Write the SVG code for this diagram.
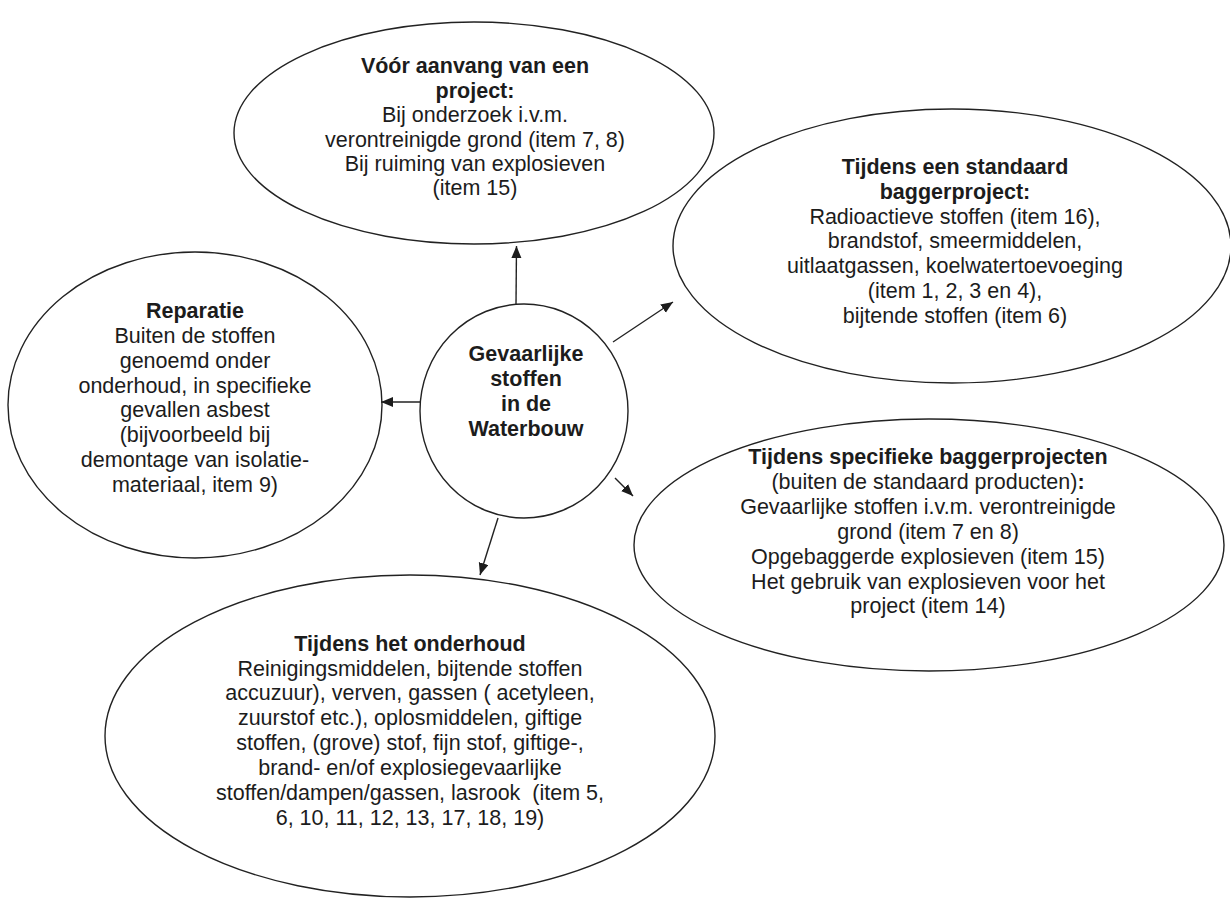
<svg xmlns="http://www.w3.org/2000/svg" width="1230" height="899" viewBox="0 0 1230 899">
  <defs>
    <style>
      .shape { fill: none; stroke: #222; stroke-width: 1.4; }
      .wire { fill: none; stroke: #222; stroke-width: 1.4; }
      text { font-family: "Liberation Sans", Arial, Helvetica, sans-serif; font-size: 21.5px; fill: #1c1c1c; text-anchor: middle; }
      .b { font-weight: bold; }
    </style>
    <marker id="tip" markerUnits="userSpaceOnUse" markerWidth="13" markerHeight="11" refX="12" refY="5" orient="auto">
      <path d="M0,0 L12,5 L0,10 Z" fill="#1c1c1c"/>
    </marker>
  </defs>

  <rect width="1230" height="899" fill="#ffffff"/>

  <!-- connectors from the central circle to the surrounding ellipses -->
  <g id="connectors">
    <line class="wire" x1="516" y1="305" x2="516.5" y2="246" marker-end="url(#tip)"/>
    <line class="wire" x1="613" y1="342" x2="673" y2="302" marker-end="url(#tip)"/>
    <line class="wire" x1="420" y1="402" x2="381" y2="402" marker-end="url(#tip)"/>
    <line class="wire" x1="615" y1="478" x2="633" y2="496" marker-end="url(#tip)"/>
    <line class="wire" x1="498" y1="518" x2="480" y2="575" marker-end="url(#tip)"/>
  </g>

  <!-- central topic -->
  <g id="node-center">
    <ellipse class="shape" cx="524" cy="411" rx="104" ry="107"/>
    <text class="b" x="526" y="360.7">Gevaarlijke</text>
    <text class="b" x="526" y="385.7">stoffen</text>
    <text class="b" x="526" y="410.5">in de</text>
    <text class="b" x="526" y="435.5">Waterbouw</text>
  </g>

  <!-- before the project starts -->
  <g id="node-voor-aanvang">
    <ellipse class="shape" cx="474" cy="133" rx="240" ry="111"/>
    <text class="b" x="475" y="73">Vóór aanvang van een</text>
    <text class="b" x="475" y="97.5">project:</text>
    <text x="475" y="122">Bij onderzoek i.v.m.</text>
    <text x="475" y="146.5">verontreinigde grond (item 7, 8)</text>
    <text x="475" y="171">Bij ruiming van explosieven</text>
    <text x="475" y="195">(item 15)</text>
  </g>

  <!-- standard dredging project -->
  <g id="node-standaard">
    <ellipse class="shape" cx="952" cy="246" rx="279" ry="137"/>
    <text class="b" x="955" y="174">Tijdens een standaard</text>
    <text class="b" x="955" y="198.8">baggerproject:</text>
    <text x="955" y="223.6">Radioactieve stoffen (item 16),</text>
    <text x="955" y="248.4">brandstof, smeermiddelen,</text>
    <text x="955" y="273.2">uitlaatgassen, koelwatertoevoeging</text>
    <text x="955" y="298">(item 1, 2, 3 en 4),</text>
    <text x="955" y="322.8">bijtende stoffen (item 6)</text>
  </g>

  <!-- repair -->
  <g id="node-reparatie">
    <ellipse class="shape" cx="195" cy="405" rx="187" ry="153"/>
    <text class="b" x="195" y="318">Reparatie</text>
    <text x="195" y="343">Buiten de stoffen</text>
    <text x="195" y="368">genoemd onder</text>
    <text x="195" y="392.5">onderhoud, in specifieke</text>
    <text x="195" y="417">gevallen asbest</text>
    <text x="195" y="442">(bijvoorbeeld bij</text>
    <text x="195" y="467">demontage van isolatie-</text>
    <text x="195" y="492">materiaal, item 9)</text>
  </g>

  <!-- specific dredging projects -->
  <g id="node-specifiek">
    <ellipse class="shape" cx="929" cy="545" rx="295" ry="126"/>
    <text class="b" x="928" y="464.3">Tijdens specifieke baggerprojecten</text>
    <text x="928" y="489">(buiten de standaard producten)<tspan class="b">:</tspan></text>
    <text x="928" y="514">Gevaarlijke stoffen i.v.m. verontreinigde</text>
    <text x="928" y="539">grond (item 7 en 8)</text>
    <text x="928" y="564">Opgebaggerde explosieven (item 15)</text>
    <text x="928" y="588.5">Het gebruik van explosieven voor het</text>
    <text x="928" y="613.3">project (item 14)</text>
  </g>

  <!-- maintenance -->
  <g id="node-onderhoud">
    <ellipse class="shape" cx="410" cy="736" rx="305" ry="161"/>
    <text class="b" x="410" y="650.7">Tijdens het onderhoud</text>
    <text x="410" y="675.5">Reinigingsmiddelen, bijtende stoffen</text>
    <text x="410" y="700.3" xml:space="preserve">accuzuur), verven, gassen ( acetyleen,</text>
    <text x="410" y="725">zuurstof etc.), oplosmiddelen, giftige</text>
    <text x="410" y="750">stoffen, (grove) stof, fijn stof, giftige-,</text>
    <text x="410" y="775">brand- en/of explosiegevaarlijke</text>
    <text x="410" y="800" xml:space="preserve">stoffen/dampen/gassen, lasrook  (item 5,</text>
    <text x="410" y="825">6, 10, 11, 12, 13, 17, 18, 19)</text>
  </g>
</svg>
